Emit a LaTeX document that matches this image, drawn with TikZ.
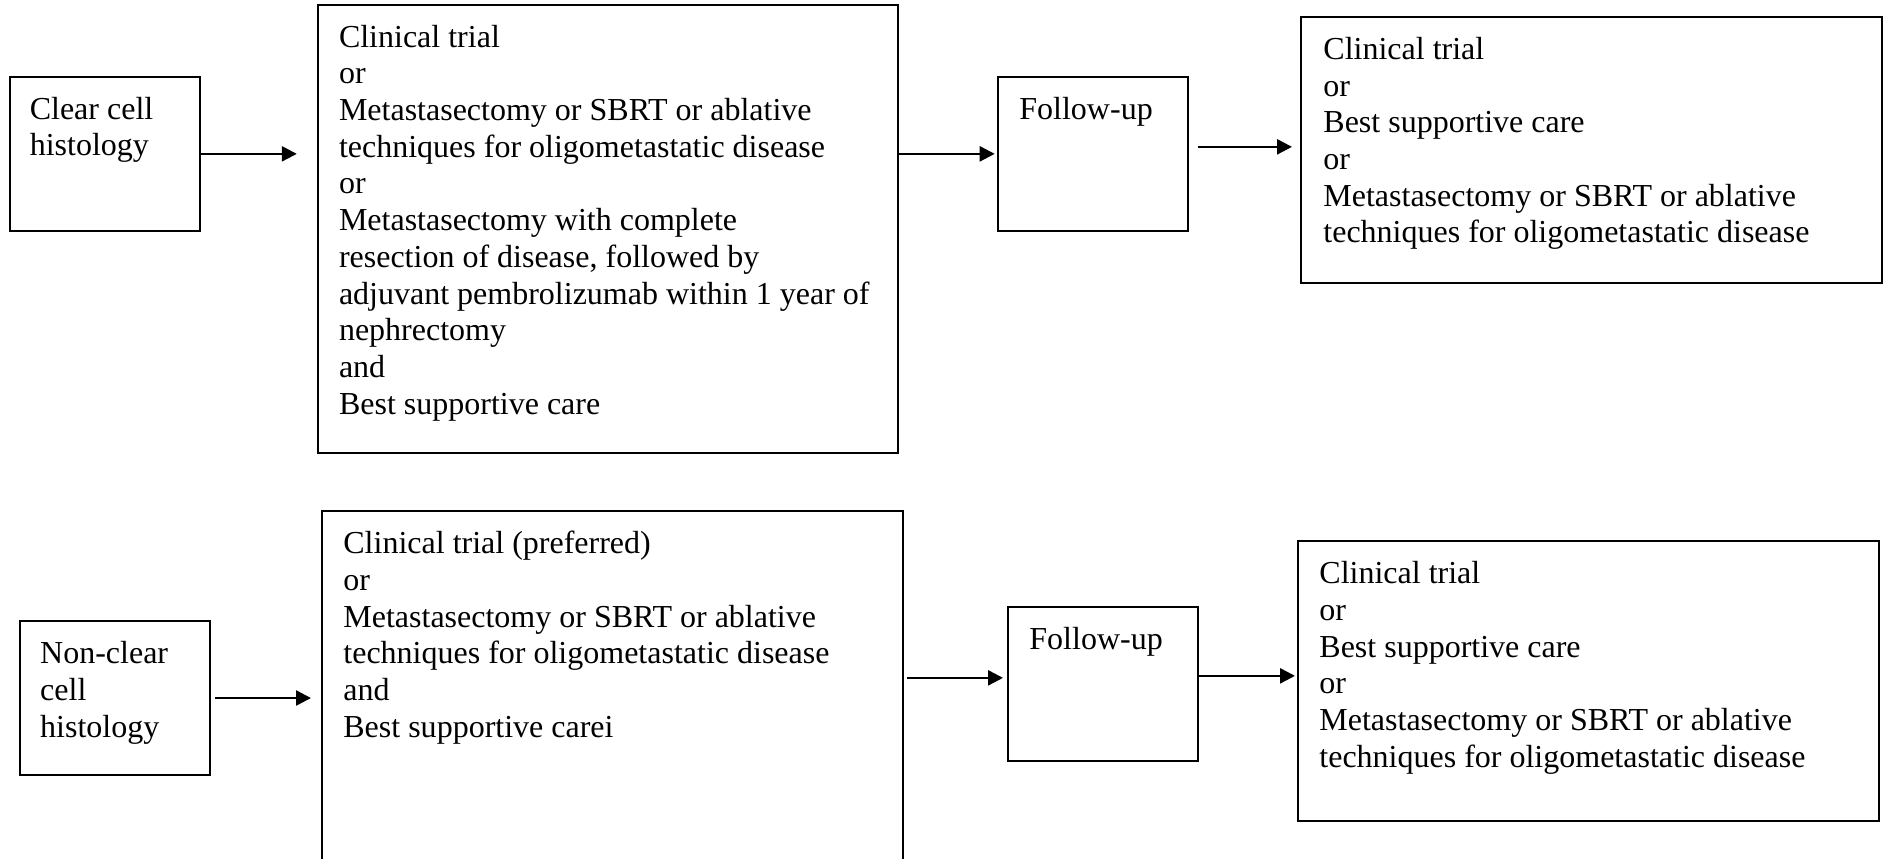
\documentclass[tikz,border=0pt]{standalone}
\usepackage{fontspec}
\setmainfont{Liberation Serif}
\usetikzlibrary{arrows.meta,fit}
\begin{document}
\begin{tikzpicture}[x=0.5pt,y=-0.5pt,
  box/.style={draw, line width=1pt, inner sep=0pt},
  txt/.style={anchor=north west, inner sep=0pt, align=left, font=\fontsize{16pt}{18.35pt}\selectfont},
  arr/.style={line width=1.2pt, -{Triangle[length=7.5pt,width=7.5pt]}}]
\useasboundingbox (0,0) rectangle (1883,858);
\clip (0,0) rectangle (1883,858);
\fill[white] (0,0) rectangle (1883,858);

% top row
\node[box, fit={(9.8,76.7) (200,231)}] (A) {};
\node[box, fit={(317.8,4.7) (898,453)}] (B) {};
\node[box, fit={(997.7,76.7) (1188,231)}] (C) {};
\node[box, fit={(1301,16.7) (1882,283)}] (D) {};

\node[txt] (At) at (29.4,93) {\strut Clear cell\\histology};
\node[txt] (Bt) at (338.6,21) {\strut Clinical trial\\or\\Metastasectomy or SBRT or ablative\\techniques for oligometastatic disease\\or\\Metastasectomy with complete\\resection of disease, followed by\\adjuvant pembrolizumab within 1 year of\\nephrectomy\\and\\Best supportive care};
\node[txt] (Ct) at (1019,93.3) {\strut Follow-up};
\node[txt] (Dt) at (1323,33.3) {\strut Clinical trial\\or\\Best supportive care\\or\\Metastasectomy or SBRT or ablative\\techniques for oligometastatic disease};

% bottom row
\node[box, fit={(19.6,621) (210,775)}] (E) {};
\node[box, fit={(321.5,511) (902.6,900)}] (F) {};
\node[box, fit={(1008,606.7) (1198,761)}] (G) {};
\node[box, fit={(1298,541) (1878.8,821)}] (H) {};

\node[txt] (Et) at (39.8,637.7) {\strut Non-clear\\cell\\histology};
\node[txt] (Ft) at (343,527.7) {\strut Clinical trial (preferred)\\or\\Metastasectomy or SBRT or ablative\\techniques for oligometastatic disease\\and\\Best supportive carei};
\node[txt] (Gt) at (1029,623.3) {\strut Follow-up};
\node[txt] (Ht) at (1319,557.7) {\strut Clinical trial\\or\\Best supportive care\\or\\Metastasectomy or SBRT or ablative\\techniques for oligometastatic disease};

% connectors
\coordinate (d3) at ([yshift=1.5pt]D.west);
\coordinate (g5) at ([yshift=3pt]G.west);
\coordinate (g6) at ([yshift=4pt]G.east);

\draw[arr, shorten >=10pt] (A.east) -- (A.east -| B.west);
\draw[arr, shorten >=1pt] (C.west -| B.east) -- (C.west);
\draw[arr, shorten <=4.3pt, shorten >=4pt] (d3 -| C.east) -- (d3);
\draw[arr, shorten <=2pt, shorten >=4.75pt] (E.east) -- (E.east -| F.west);
\draw[arr, shorten <=1.7pt, shorten >=2pt] (g5 -| F.east) -- (g5);
\draw[arr, shorten >=1pt] (g6) -- (g6 -| H.west);
\end{tikzpicture}
\end{document}
